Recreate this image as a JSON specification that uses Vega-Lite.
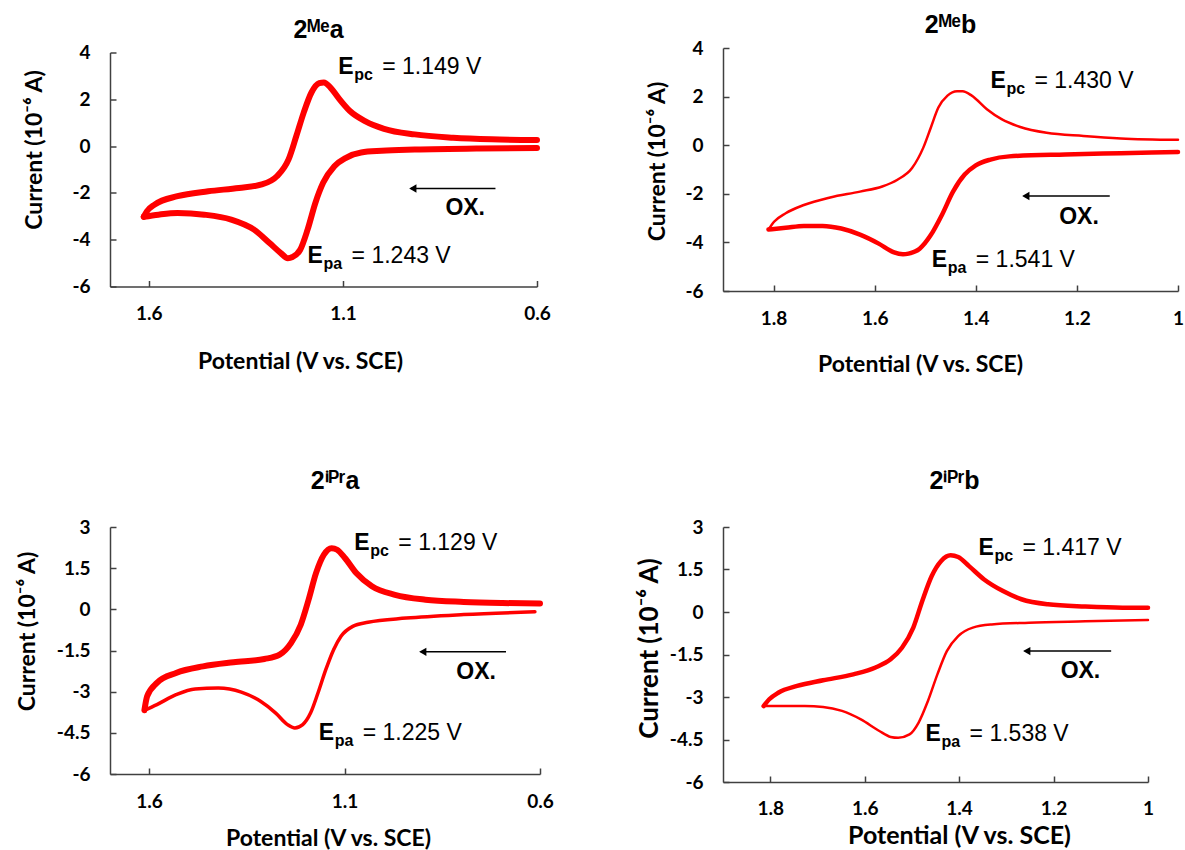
{
  "$schema": "https://vega.github.io/schema/vega-lite/v6.json",
  "padding": {"left": 15, "top": 13, "right": 5, "bottom": 5},
  "background": "#ffffff",
  "datasets": {
    "cv": [
      {"p":"Mea","b":"ox","i":1,"v":0.600,"c":-0.08},
      {"p":"Mea","b":"ox","i":2,"v":0.750,"c":-0.10},
      {"p":"Mea","b":"ox","i":3,"v":0.915,"c":-0.15},
      {"p":"Mea","b":"ox","i":4,"v":1.000,"c":-0.20},
      {"p":"Mea","b":"ox","i":5,"v":1.053,"c":-0.27},
      {"p":"Mea","b":"ox","i":6,"v":1.092,"c":-0.50},
      {"p":"Mea","b":"ox","i":7,"v":1.122,"c":-0.86},
      {"p":"Mea","b":"ox","i":8,"v":1.151,"c":-1.57},
      {"p":"Mea","b":"ox","i":9,"v":1.171,"c":-2.43},
      {"p":"Mea","b":"ox","i":10,"v":1.191,"c":-3.57},
      {"p":"Mea","b":"ox","i":11,"v":1.210,"c":-4.43},
      {"p":"Mea","b":"ox","i":12,"v":1.230,"c":-4.74},
      {"p":"Mea","b":"ox","i":13,"v":1.242,"c":-4.79},
      {"p":"Mea","b":"ox","i":14,"v":1.260,"c":-4.57},
      {"p":"Mea","b":"ox","i":15,"v":1.289,"c":-4.14},
      {"p":"Mea","b":"ox","i":16,"v":1.329,"c":-3.57},
      {"p":"Mea","b":"ox","i":17,"v":1.388,"c":-3.14},
      {"p":"Mea","b":"ox","i":18,"v":1.457,"c":-2.93},
      {"p":"Mea","b":"ox","i":19,"v":1.526,"c":-2.86},
      {"p":"Mea","b":"ox","i":20,"v":1.575,"c":-2.93},
      {"p":"Mea","b":"ox","i":21,"v":1.613,"c":-3.02},
      {"p":"Mea","b":"red","i":1,"v":1.613,"c":-3.02},
      {"p":"Mea","b":"red","i":2,"v":1.605,"c":-2.79},
      {"p":"Mea","b":"red","i":3,"v":1.585,"c":-2.50},
      {"p":"Mea","b":"red","i":4,"v":1.526,"c":-2.14},
      {"p":"Mea","b":"red","i":5,"v":1.447,"c":-1.93},
      {"p":"Mea","b":"red","i":6,"v":1.368,"c":-1.79},
      {"p":"Mea","b":"red","i":7,"v":1.309,"c":-1.64},
      {"p":"Mea","b":"red","i":8,"v":1.270,"c":-1.29},
      {"p":"Mea","b":"red","i":9,"v":1.240,"c":-0.57},
      {"p":"Mea","b":"red","i":10,"v":1.220,"c":0.43},
      {"p":"Mea","b":"red","i":11,"v":1.201,"c":1.43},
      {"p":"Mea","b":"red","i":12,"v":1.181,"c":2.29},
      {"p":"Mea","b":"red","i":13,"v":1.161,"c":2.69},
      {"p":"Mea","b":"red","i":14,"v":1.149,"c":2.72},
      {"p":"Mea","b":"red","i":15,"v":1.132,"c":2.50},
      {"p":"Mea","b":"red","i":16,"v":1.112,"c":2.07},
      {"p":"Mea","b":"red","i":17,"v":1.082,"c":1.50},
      {"p":"Mea","b":"red","i":18,"v":1.043,"c":1.07},
      {"p":"Mea","b":"red","i":19,"v":0.994,"c":0.74},
      {"p":"Mea","b":"red","i":20,"v":0.915,"c":0.50},
      {"p":"Mea","b":"red","i":21,"v":0.816,"c":0.36},
      {"p":"Mea","b":"red","i":22,"v":0.717,"c":0.29},
      {"p":"Mea","b":"red","i":23,"v":0.600,"c":0.26},

      {"p":"Meb","b":"ox","i":1,"v":1.000,"c":-0.28},
      {"p":"Meb","b":"ox","i":2,"v":1.113,"c":-0.33},
      {"p":"Meb","b":"ox","i":3,"v":1.223,"c":-0.38},
      {"p":"Meb","b":"ox","i":4,"v":1.334,"c":-0.46},
      {"p":"Meb","b":"ox","i":5,"v":1.371,"c":-0.59},
      {"p":"Meb","b":"ox","i":6,"v":1.400,"c":-0.83},
      {"p":"Meb","b":"ox","i":7,"v":1.422,"c":-1.21},
      {"p":"Meb","b":"ox","i":8,"v":1.445,"c":-1.91},
      {"p":"Meb","b":"ox","i":9,"v":1.467,"c":-2.87},
      {"p":"Meb","b":"ox","i":10,"v":1.489,"c":-3.70},
      {"p":"Meb","b":"ox","i":11,"v":1.511,"c":-4.26},
      {"p":"Meb","b":"ox","i":12,"v":1.533,"c":-4.46},
      {"p":"Meb","b":"ox","i":13,"v":1.544,"c":-4.49},
      {"p":"Meb","b":"ox","i":14,"v":1.563,"c":-4.40},
      {"p":"Meb","b":"ox","i":15,"v":1.592,"c":-4.05},
      {"p":"Meb","b":"ox","i":16,"v":1.629,"c":-3.68},
      {"p":"Meb","b":"ox","i":17,"v":1.666,"c":-3.43},
      {"p":"Meb","b":"ox","i":18,"v":1.703,"c":-3.32},
      {"p":"Meb","b":"ox","i":19,"v":1.740,"c":-3.32},
      {"p":"Meb","b":"ox","i":20,"v":1.776,"c":-3.40},
      {"p":"Meb","b":"ox","i":21,"v":1.810,"c":-3.47},
      {"p":"Meb","b":"red","i":1,"v":1.810,"c":-3.47},
      {"p":"Meb","b":"red","i":2,"v":1.799,"c":-3.15},
      {"p":"Meb","b":"red","i":3,"v":1.776,"c":-2.80},
      {"p":"Meb","b":"red","i":4,"v":1.740,"c":-2.46},
      {"p":"Meb","b":"red","i":5,"v":1.688,"c":-2.15},
      {"p":"Meb","b":"red","i":6,"v":1.629,"c":-1.91},
      {"p":"Meb","b":"red","i":7,"v":1.585,"c":-1.70},
      {"p":"Meb","b":"red","i":8,"v":1.555,"c":-1.42},
      {"p":"Meb","b":"red","i":9,"v":1.526,"c":-0.94},
      {"p":"Meb","b":"red","i":10,"v":1.504,"c":-0.11},
      {"p":"Meb","b":"red","i":11,"v":1.489,"c":0.72},
      {"p":"Meb","b":"red","i":12,"v":1.474,"c":1.55},
      {"p":"Meb","b":"red","i":13,"v":1.456,"c":2.04},
      {"p":"Meb","b":"red","i":14,"v":1.437,"c":2.22},
      {"p":"Meb","b":"red","i":15,"v":1.426,"c":2.22},
      {"p":"Meb","b":"red","i":16,"v":1.408,"c":2.04},
      {"p":"Meb","b":"red","i":17,"v":1.378,"c":1.48},
      {"p":"Meb","b":"red","i":18,"v":1.349,"c":1.07},
      {"p":"Meb","b":"red","i":19,"v":1.312,"c":0.75},
      {"p":"Meb","b":"red","i":20,"v":1.260,"c":0.51},
      {"p":"Meb","b":"red","i":21,"v":1.187,"c":0.38},
      {"p":"Meb","b":"red","i":22,"v":1.113,"c":0.28},
      {"p":"Meb","b":"red","i":23,"v":1.000,"c":0.22},

      {"p":"iPra","b":"ox","i":1,"v":0.613,"c":-0.09},
      {"p":"iPra","b":"ox","i":2,"v":0.795,"c":-0.19},
      {"p":"iPra","b":"ox","i":3,"v":0.942,"c":-0.32},
      {"p":"iPra","b":"ox","i":4,"v":1.040,"c":-0.47},
      {"p":"iPra","b":"ox","i":5,"v":1.079,"c":-0.62},
      {"p":"iPra","b":"ox","i":6,"v":1.109,"c":-0.98},
      {"p":"iPra","b":"ox","i":7,"v":1.128,"c":-1.47},
      {"p":"iPra","b":"ox","i":8,"v":1.148,"c":-2.20},
      {"p":"iPra","b":"ox","i":9,"v":1.168,"c":-3.05},
      {"p":"iPra","b":"ox","i":10,"v":1.187,"c":-3.78},
      {"p":"iPra","b":"ox","i":11,"v":1.207,"c":-4.20},
      {"p":"iPra","b":"ox","i":12,"v":1.227,"c":-4.32},
      {"p":"iPra","b":"ox","i":13,"v":1.246,"c":-4.20},
      {"p":"iPra","b":"ox","i":14,"v":1.276,"c":-3.78},
      {"p":"iPra","b":"ox","i":15,"v":1.315,"c":-3.35},
      {"p":"iPra","b":"ox","i":16,"v":1.364,"c":-3.02},
      {"p":"iPra","b":"ox","i":17,"v":1.423,"c":-2.87},
      {"p":"iPra","b":"ox","i":18,"v":1.482,"c":-2.90},
      {"p":"iPra","b":"ox","i":19,"v":1.531,"c":-3.11},
      {"p":"iPra","b":"ox","i":20,"v":1.580,"c":-3.47},
      {"p":"iPra","b":"ox","i":21,"v":1.612,"c":-3.68},
      {"p":"iPra","b":"red","i":1,"v":1.612,"c":-3.68},
      {"p":"iPra","b":"red","i":2,"v":1.605,"c":-3.17},
      {"p":"iPra","b":"red","i":3,"v":1.580,"c":-2.68},
      {"p":"iPra","b":"red","i":4,"v":1.531,"c":-2.32},
      {"p":"iPra","b":"red","i":5,"v":1.462,"c":-2.08},
      {"p":"iPra","b":"red","i":6,"v":1.384,"c":-1.93},
      {"p":"iPra","b":"red","i":7,"v":1.305,"c":-1.81},
      {"p":"iPra","b":"red","i":8,"v":1.266,"c":-1.65},
      {"p":"iPra","b":"red","i":9,"v":1.237,"c":-1.23},
      {"p":"iPra","b":"red","i":10,"v":1.212,"c":-0.56},
      {"p":"iPra","b":"red","i":11,"v":1.192,"c":0.35},
      {"p":"iPra","b":"red","i":12,"v":1.173,"c":1.32},
      {"p":"iPra","b":"red","i":13,"v":1.153,"c":1.99},
      {"p":"iPra","b":"red","i":14,"v":1.133,"c":2.23},
      {"p":"iPra","b":"red","i":15,"v":1.119,"c":2.17},
      {"p":"iPra","b":"red","i":16,"v":1.099,"c":1.87},
      {"p":"iPra","b":"red","i":17,"v":1.070,"c":1.32},
      {"p":"iPra","b":"red","i":18,"v":1.030,"c":0.84},
      {"p":"iPra","b":"red","i":19,"v":0.971,"c":0.53},
      {"p":"iPra","b":"red","i":20,"v":0.893,"c":0.35},
      {"p":"iPra","b":"red","i":21,"v":0.795,"c":0.27},
      {"p":"iPra","b":"red","i":22,"v":0.696,"c":0.23},
      {"p":"iPra","b":"red","i":23,"v":0.600,"c":0.21},

      {"p":"iPrb","b":"ox","i":1,"v":1.000,"c":-0.28},
      {"p":"iPrb","b":"ox","i":2,"v":1.133,"c":-0.33},
      {"p":"iPrb","b":"ox","i":3,"v":1.252,"c":-0.38},
      {"p":"iPrb","b":"ox","i":4,"v":1.331,"c":-0.44},
      {"p":"iPrb","b":"ox","i":5,"v":1.371,"c":-0.55},
      {"p":"iPrb","b":"ox","i":6,"v":1.402,"c":-0.85},
      {"p":"iPrb","b":"ox","i":7,"v":1.426,"c":-1.38},
      {"p":"iPrb","b":"ox","i":8,"v":1.446,"c":-2.20},
      {"p":"iPrb","b":"ox","i":9,"v":1.466,"c":-3.14},
      {"p":"iPrb","b":"ox","i":10,"v":1.486,"c":-3.91},
      {"p":"iPrb","b":"ox","i":11,"v":1.505,"c":-4.32},
      {"p":"iPrb","b":"ox","i":12,"v":1.529,"c":-4.44},
      {"p":"iPrb","b":"ox","i":13,"v":1.545,"c":-4.41},
      {"p":"iPrb","b":"ox","i":14,"v":1.569,"c":-4.20},
      {"p":"iPrb","b":"ox","i":15,"v":1.608,"c":-3.79},
      {"p":"iPrb","b":"ox","i":16,"v":1.648,"c":-3.49},
      {"p":"iPrb","b":"ox","i":17,"v":1.688,"c":-3.35},
      {"p":"iPrb","b":"ox","i":18,"v":1.727,"c":-3.32},
      {"p":"iPrb","b":"ox","i":19,"v":1.767,"c":-3.32},
      {"p":"iPrb","b":"ox","i":20,"v":1.814,"c":-3.32},
      {"p":"iPrb","b":"red","i":1,"v":1.814,"c":-3.32},
      {"p":"iPrb","b":"red","i":2,"v":1.802,"c":-3.08},
      {"p":"iPrb","b":"red","i":3,"v":1.783,"c":-2.85},
      {"p":"iPrb","b":"red","i":4,"v":1.743,"c":-2.61},
      {"p":"iPrb","b":"red","i":5,"v":1.688,"c":-2.41},
      {"p":"iPrb","b":"red","i":6,"v":1.624,"c":-2.20},
      {"p":"iPrb","b":"red","i":7,"v":1.577,"c":-1.96},
      {"p":"iPrb","b":"red","i":8,"v":1.545,"c":-1.67},
      {"p":"iPrb","b":"red","i":9,"v":1.521,"c":-1.26},
      {"p":"iPrb","b":"red","i":10,"v":1.497,"c":-0.55},
      {"p":"iPrb","b":"red","i":11,"v":1.478,"c":0.39},
      {"p":"iPrb","b":"red","i":12,"v":1.458,"c":1.27},
      {"p":"iPrb","b":"red","i":13,"v":1.438,"c":1.80},
      {"p":"iPrb","b":"red","i":14,"v":1.418,"c":2.00},
      {"p":"iPrb","b":"red","i":15,"v":1.402,"c":1.94},
      {"p":"iPrb","b":"red","i":16,"v":1.379,"c":1.62},
      {"p":"iPrb","b":"red","i":17,"v":1.347,"c":1.15},
      {"p":"iPrb","b":"red","i":18,"v":1.307,"c":0.74},
      {"p":"iPrb","b":"red","i":19,"v":1.268,"c":0.45},
      {"p":"iPrb","b":"red","i":20,"v":1.212,"c":0.27},
      {"p":"iPrb","b":"red","i":21,"v":1.133,"c":0.19},
      {"p":"iPrb","b":"red","i":22,"v":1.054,"c":0.15},
      {"p":"iPrb","b":"red","i":23,"v":1.000,"c":0.15}
    ],
    "ann": [
      {"p":"Mea","v":1.112,"c":3.36,"s":"pc","t":"= 1.149 V"},
      {"p":"Mea","v":1.191,"c":-4.71,"s":"pa","t":"= 1.243 V"},
      {"p":"Meb","v":1.371,"c":2.66,"s":"pc","t":"= 1.430 V"},
      {"p":"Meb","v":1.487,"c":-4.74,"s":"pa","t":"= 1.541 V"},
      {"p":"iPra","v":1.075,"c":2.42,"s":"pc","t":"= 1.129 V"},
      {"p":"iPra","v":1.166,"c":-4.51,"s":"pa","t":"= 1.225 V"},
      {"p":"iPrb","v":1.359,"c":2.27,"s":"pc","t":"= 1.417 V"},
      {"p":"iPrb","v":1.471,"c":-4.31,"s":"pa","t":"= 1.538 V"}
    ],
    "ox": [
      {"p":"Mea","v":0.836,"c":-2.64,"t":"OX."},
      {"p":"Meb","v":1.235,"c":-2.94,"t":"OX."},
      {"p":"iPra","v":0.814,"c":-2.30,"t":"OX."},
      {"p":"iPrb","v":1.185,"c":-2.08,"t":"OX."}
    ],
    "arrow": [
      {"p":"Mea","v":0.707,"v2":0.925,"c":-1.81},
      {"p":"Meb","v":1.135,"v2":1.305,"c":-2.09},
      {"p":"iPra","v":0.687,"v2":0.905,"c":-1.55},
      {"p":"iPrb","v":1.078,"v2":1.261,"c":-1.38}
    ]
  },
  "config": {
    "view": {"stroke": null},
    "axis": {
      "grid": false, "domainColor": "#404040", "domainWidth": 1.5,
      "tickColor": "#404040", "tickWidth": 1.5, "tickSize": -6,
      "labelFont": "Lato", "labelFontWeight": "bold", "labelFontSize": 19, "labelColor": "#000000",
      "labelFlush": false, "labelOverlap": false, "labelBound": false,
      "titleFont": "Lato", "titleFontWeight": "bold", "titleFontSize": 23, "titleColor": "#000000",
      "titleBaseline": "middle", "titleAlign": "center"
    },
    "axisX": {"labelBaseline": "middle", "labelPadding": 33},
    "axisY": {"labelPadding": 26, "labelBaseline": "middle", "labelAlign": "right", "titleAngle": -90},
    "title": {"font": "Liberation Sans", "fontSize": 25, "fontWeight": "bold", "color": "#000000", "frame": "group", "anchor": "middle"},
    "text": {"font": "Liberation Sans", "color": "#000000"}
  },
  "columns": 2,
  "spacing": {"row": 236, "column": 183},
  "bounds": "flush",
  "center": {"row": true, "column": false},
  "resolve": {"scale": {"x": "independent", "y": "independent", "strokeWidth": "independent"}},
  "concat": [
    {
      "width": 427, "height": 234,
      "title": {"text": "2\u1d39\u1d49a", "offset": 1, "dx": -5},
      "layer": [
        {
          "data": {"name": "cv"}, "transform": [{"filter": "datum.p == 'Mea'"}],
          "mark": {"type": "line", "color": "#ff0000", "interpolate": "monotone", "strokeCap": "round", "strokeJoin": "round"},
          "encoding": {
            "x": {"field": "v", "type": "quantitative", "scale": {"domain": [0.6, 1.7], "reverse": true},
                  "axis": {"values": [1.6, 1.1, 0.6], "labelExpr": "'' + datum.value", "title": "Potential (V vs. SCE)", "titleX": 190, "titleY": 75}},
            "y": {"field": "c", "type": "quantitative", "scale": {"domain": [-6, 4]},
                  "axis": {"values": [-6, -4, -2, 0, 2, 4], "labelExpr": "'' + datum.value", "title": "Current (10\u207b\u2076 A)", "titleX": -76, "titleY": 97}},
            "order": {"field": "i", "type": "quantitative"},
            "strokeWidth": {"field": "b", "type": "nominal", "scale": {"domain": ["ox", "red"], "range": [6, 6]}, "legend": null}
          }
        },
        {
          "data": {"name": "ann"}, "transform": [{"filter": "datum.p == 'Mea'"}],
          "mark": {"type": "text", "text": "E", "align": "left", "baseline": "middle", "fontWeight": "bold", "fontSize": 23},
          "encoding": {"x": {"field": "v", "type": "quantitative"}, "y": {"field": "c", "type": "quantitative"}}
        },
        {
          "data": {"name": "ann"}, "transform": [{"filter": "datum.p == 'Mea'"}],
          "mark": {"type": "text", "align": "left", "baseline": "middle", "fontWeight": "bold", "fontSize": 16, "dx": 16, "dy": 8},
          "encoding": {"x": {"field": "v", "type": "quantitative"}, "y": {"field": "c", "type": "quantitative"}, "text": {"field": "s"}}
        },
        {
          "data": {"name": "ann"}, "transform": [{"filter": "datum.p == 'Mea'"}],
          "mark": {"type": "text", "align": "left", "baseline": "middle", "fontSize": 23, "dx": 44},
          "encoding": {"x": {"field": "v", "type": "quantitative"}, "y": {"field": "c", "type": "quantitative"}, "text": {"field": "t"}}
        },
        {
          "data": {"name": "ox"}, "transform": [{"filter": "datum.p == 'Mea'"}],
          "mark": {"type": "text", "align": "left", "baseline": "middle", "fontWeight": "bold", "fontSize": 23},
          "encoding": {"x": {"field": "v", "type": "quantitative"}, "y": {"field": "c", "type": "quantitative"}, "text": {"field": "t"}}
        },
        {
          "data": {"name": "arrow"}, "transform": [{"filter": "datum.p == 'Mea'"}],
          "mark": {"type": "rule", "color": "#000000", "strokeWidth": 1.5},
          "encoding": {"x": {"field": "v", "type": "quantitative"}, "x2": {"field": "v2"}, "y": {"field": "c", "type": "quantitative"}}
        },
        {
          "data": {"name": "arrow"}, "transform": [{"filter": "datum.p == 'Mea'"}],
          "mark": {"type": "point", "shape": "triangle-left", "filled": true, "color": "#000000", "opacity": 1, "size": 70, "xOffset": 2},
          "encoding": {"x": {"field": "v2", "type": "quantitative"}, "y": {"field": "c", "type": "quantitative"}}
        }
      ]
    },
    {
      "width": 455, "height": 243,
      "title": {"text": "2\u1d39\u1d49b", "offset": 1},
      "layer": [
        {
          "data": {"name": "cv"}, "transform": [{"filter": "datum.p == 'Meb'"}],
          "mark": {"type": "line", "color": "#ff0000", "interpolate": "monotone", "strokeCap": "round", "strokeJoin": "round"},
          "encoding": {
            "x": {"field": "v", "type": "quantitative", "scale": {"domain": [1.0, 1.9], "reverse": true},
                  "axis": {"values": [1.8, 1.6, 1.4, 1.2, 1.0], "labelExpr": "'' + datum.value", "title": "Potential (V vs. SCE)", "titleX": 197, "titleY": 73}},
            "y": {"field": "c", "type": "quantitative", "scale": {"domain": [-6, 4]},
                  "axis": {"values": [-6, -4, -2, 0, 2, 4], "labelExpr": "'' + datum.value", "title": "Current (10\u207b\u2076 A)", "titleX": -66, "titleY": 113}},
            "order": {"field": "i", "type": "quantitative"},
            "strokeWidth": {"field": "b", "type": "nominal", "scale": {"domain": ["ox", "red"], "range": [4.5, 2.5]}, "legend": null}
          }
        },
        {
          "data": {"name": "ann"}, "transform": [{"filter": "datum.p == 'Meb'"}],
          "mark": {"type": "text", "text": "E", "align": "left", "baseline": "middle", "fontWeight": "bold", "fontSize": 23},
          "encoding": {"x": {"field": "v", "type": "quantitative"}, "y": {"field": "c", "type": "quantitative"}}
        },
        {
          "data": {"name": "ann"}, "transform": [{"filter": "datum.p == 'Meb'"}],
          "mark": {"type": "text", "align": "left", "baseline": "middle", "fontWeight": "bold", "fontSize": 16, "dx": 16, "dy": 8},
          "encoding": {"x": {"field": "v", "type": "quantitative"}, "y": {"field": "c", "type": "quantitative"}, "text": {"field": "s"}}
        },
        {
          "data": {"name": "ann"}, "transform": [{"filter": "datum.p == 'Meb'"}],
          "mark": {"type": "text", "align": "left", "baseline": "middle", "fontSize": 23, "dx": 44},
          "encoding": {"x": {"field": "v", "type": "quantitative"}, "y": {"field": "c", "type": "quantitative"}, "text": {"field": "t"}}
        },
        {
          "data": {"name": "ox"}, "transform": [{"filter": "datum.p == 'Meb'"}],
          "mark": {"type": "text", "align": "left", "baseline": "middle", "fontWeight": "bold", "fontSize": 23},
          "encoding": {"x": {"field": "v", "type": "quantitative"}, "y": {"field": "c", "type": "quantitative"}, "text": {"field": "t"}}
        },
        {
          "data": {"name": "arrow"}, "transform": [{"filter": "datum.p == 'Meb'"}],
          "mark": {"type": "rule", "color": "#000000", "strokeWidth": 1.5},
          "encoding": {"x": {"field": "v", "type": "quantitative"}, "x2": {"field": "v2"}, "y": {"field": "c", "type": "quantitative"}}
        },
        {
          "data": {"name": "arrow"}, "transform": [{"filter": "datum.p == 'Meb'"}],
          "mark": {"type": "point", "shape": "triangle-left", "filled": true, "color": "#000000", "opacity": 1, "size": 70, "xOffset": 2},
          "encoding": {"x": {"field": "v2", "type": "quantitative"}, "y": {"field": "c", "type": "quantitative"}}
        }
      ]
    },
    {
      "width": 430, "height": 247,
      "title": {"text": "2\u2071\u1d3e\u02b3a", "offset": 24, "dx": 10},
      "layer": [
        {
          "data": {"name": "cv"}, "transform": [{"filter": "datum.p == 'iPra'"}],
          "mark": {"type": "line", "color": "#ff0000", "interpolate": "monotone", "strokeCap": "round", "strokeJoin": "round"},
          "encoding": {
            "x": {"field": "v", "type": "quantitative", "scale": {"domain": [0.6, 1.7], "reverse": true},
                  "axis": {"values": [1.6, 1.1, 0.6], "labelExpr": "'' + datum.value", "title": "Potential (V vs. SCE)", "titleX": 218, "titleY": 64}},
            "y": {"field": "c", "type": "quantitative", "scale": {"domain": [-6, 3]},
                  "axis": {"values": [-6, -4.5, -3, -1.5, 0, 1.5, 3], "labelExpr": "'' + datum.value", "title": "Current (10\u207b\u2076 A)", "titleX": -83, "titleY": 104}},
            "order": {"field": "i", "type": "quantitative"},
            "strokeWidth": {"field": "b", "type": "nominal", "scale": {"domain": ["ox", "red"], "range": [3.5, 6]}, "legend": null}
          }
        },
        {
          "data": {"name": "ann"}, "transform": [{"filter": "datum.p == 'iPra'"}],
          "mark": {"type": "text", "text": "E", "align": "left", "baseline": "middle", "fontWeight": "bold", "fontSize": 23},
          "encoding": {"x": {"field": "v", "type": "quantitative"}, "y": {"field": "c", "type": "quantitative"}}
        },
        {
          "data": {"name": "ann"}, "transform": [{"filter": "datum.p == 'iPra'"}],
          "mark": {"type": "text", "align": "left", "baseline": "middle", "fontWeight": "bold", "fontSize": 16, "dx": 16, "dy": 8},
          "encoding": {"x": {"field": "v", "type": "quantitative"}, "y": {"field": "c", "type": "quantitative"}, "text": {"field": "s"}}
        },
        {
          "data": {"name": "ann"}, "transform": [{"filter": "datum.p == 'iPra'"}],
          "mark": {"type": "text", "align": "left", "baseline": "middle", "fontSize": 23, "dx": 44},
          "encoding": {"x": {"field": "v", "type": "quantitative"}, "y": {"field": "c", "type": "quantitative"}, "text": {"field": "t"}}
        },
        {
          "data": {"name": "ox"}, "transform": [{"filter": "datum.p == 'iPra'"}],
          "mark": {"type": "text", "align": "left", "baseline": "middle", "fontWeight": "bold", "fontSize": 23},
          "encoding": {"x": {"field": "v", "type": "quantitative"}, "y": {"field": "c", "type": "quantitative"}, "text": {"field": "t"}}
        },
        {
          "data": {"name": "arrow"}, "transform": [{"filter": "datum.p == 'iPra'"}],
          "mark": {"type": "rule", "color": "#000000", "strokeWidth": 1.5},
          "encoding": {"x": {"field": "v", "type": "quantitative"}, "x2": {"field": "v2"}, "y": {"field": "c", "type": "quantitative"}}
        },
        {
          "data": {"name": "arrow"}, "transform": [{"filter": "datum.p == 'iPra'"}],
          "mark": {"type": "point", "shape": "triangle-left", "filled": true, "color": "#000000", "opacity": 1, "size": 70, "xOffset": 2},
          "encoding": {"x": {"field": "v2", "type": "quantitative"}, "y": {"field": "c", "type": "quantitative"}}
        }
      ]
    },
    {
      "width": 425, "height": 255,
      "title": {"text": "2\u2071\u1d3e\u02b3b", "offset": 24, "dx": 19},
      "layer": [
        {
          "data": {"name": "cv"}, "transform": [{"filter": "datum.p == 'iPrb'"}],
          "mark": {"type": "line", "color": "#ff0000", "interpolate": "monotone", "strokeCap": "round", "strokeJoin": "round"},
          "encoding": {
            "x": {"field": "v", "type": "quantitative", "scale": {"domain": [1.0, 1.9], "reverse": true},
                  "axis": {"values": [1.8, 1.6, 1.4, 1.2, 1.0], "labelExpr": "'' + datum.value", "labelPadding": 32, "title": "Potential (V vs. SCE)", "titleFontSize": 25, "titleX": 236, "titleY": 53}},
            "y": {"field": "c", "type": "quantitative", "scale": {"domain": [-6, 3]},
                  "axis": {"values": [-6, -4.5, -3, -1.5, 0, 1.5, 3], "labelExpr": "'' + datum.value", "title": "Current (10\u207b\u2076 A)", "titleFontSize": 26, "titleX": -74, "titleY": 121}},
            "order": {"field": "i", "type": "quantitative"},
            "strokeWidth": {"field": "b", "type": "nominal", "scale": {"domain": ["ox", "red"], "range": [2.5, 4.5]}, "legend": null}
          }
        },
        {
          "data": {"name": "ann"}, "transform": [{"filter": "datum.p == 'iPrb'"}],
          "mark": {"type": "text", "text": "E", "align": "left", "baseline": "middle", "fontWeight": "bold", "fontSize": 23},
          "encoding": {"x": {"field": "v", "type": "quantitative"}, "y": {"field": "c", "type": "quantitative"}}
        },
        {
          "data": {"name": "ann"}, "transform": [{"filter": "datum.p == 'iPrb'"}],
          "mark": {"type": "text", "align": "left", "baseline": "middle", "fontWeight": "bold", "fontSize": 16, "dx": 16, "dy": 8},
          "encoding": {"x": {"field": "v", "type": "quantitative"}, "y": {"field": "c", "type": "quantitative"}, "text": {"field": "s"}}
        },
        {
          "data": {"name": "ann"}, "transform": [{"filter": "datum.p == 'iPrb'"}],
          "mark": {"type": "text", "align": "left", "baseline": "middle", "fontSize": 23, "dx": 44},
          "encoding": {"x": {"field": "v", "type": "quantitative"}, "y": {"field": "c", "type": "quantitative"}, "text": {"field": "t"}}
        },
        {
          "data": {"name": "ox"}, "transform": [{"filter": "datum.p == 'iPrb'"}],
          "mark": {"type": "text", "align": "left", "baseline": "middle", "fontWeight": "bold", "fontSize": 23},
          "encoding": {"x": {"field": "v", "type": "quantitative"}, "y": {"field": "c", "type": "quantitative"}, "text": {"field": "t"}}
        },
        {
          "data": {"name": "arrow"}, "transform": [{"filter": "datum.p == 'iPrb'"}],
          "mark": {"type": "rule", "color": "#000000", "strokeWidth": 1.5},
          "encoding": {"x": {"field": "v", "type": "quantitative"}, "x2": {"field": "v2"}, "y": {"field": "c", "type": "quantitative"}}
        },
        {
          "data": {"name": "arrow"}, "transform": [{"filter": "datum.p == 'iPrb'"}],
          "mark": {"type": "point", "shape": "triangle-left", "filled": true, "color": "#000000", "opacity": 1, "size": 70, "xOffset": 2},
          "encoding": {"x": {"field": "v2", "type": "quantitative"}, "y": {"field": "c", "type": "quantitative"}}
        }
      ]
    }
  ]
}
